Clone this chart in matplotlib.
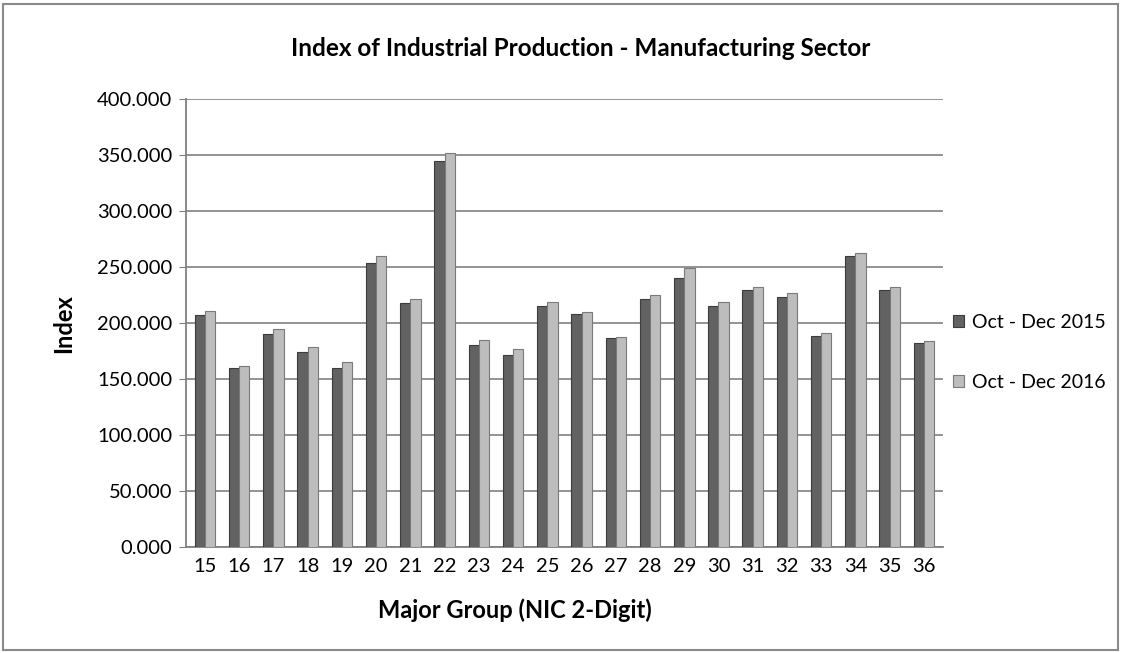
import numpy as np
import matplotlib.pyplot as plt
from matplotlib.patches import Rectangle

plt.rcParams['font.family'] = ['Lato', 'DejaVu Sans']

# Major groups (NIC 2-digit) and index values
groups = ["15", "16", "17", "18", "19", "20", "21", "22", "23", "24", "25",
          "26", "27", "28", "29", "30", "31", "32", "33", "34", "35", "36"]
oct_dec_2015 = [207, 160, 190, 174, 160, 254, 218, 345, 181, 172, 215,
                208, 187, 222, 240, 215, 230, 223, 189, 260, 230, 182]
oct_dec_2016 = [211, 162, 195, 179, 165, 260, 222, 352, 185, 177, 219,
                210, 188, 225, 249, 219, 232, 227, 191, 263, 232, 184]
series_names = ["Oct - Dec 2015", "Oct - Dec 2016"]

fig = plt.figure(figsize=(11.21, 6.53), dpi=100)
ax = fig.add_axes([0.166, 0.162, 0.675, 0.686])

x = np.arange(len(groups))
w = 0.3
ax.bar(x - w / 2, oct_dec_2015, w, color="#626262", edgecolor="#3c3c3c",
       linewidth=0.8, label=series_names[0], zorder=3)
ax.bar(x + w / 2, oct_dec_2016, w, color="#bdbdbd", edgecolor="#7a7a7a",
       linewidth=0.8, label=series_names[1], zorder=3)

ax.set_ylim(0, 400)
ax.set_xlim(-0.55, len(groups) - 0.45)
ax.set_yticks(np.arange(0, 401, 50))
ax.set_yticklabels([f"{v:.3f}" for v in np.arange(0, 401, 50)], fontsize=14.5)
ax.set_xticks(x)
ax.set_xticklabels(groups, fontsize=14.5)
ax.tick_params(axis="x", length=0, pad=8)
ax.tick_params(axis="y", length=5, color="#808080", pad=5)
ax.yaxis.grid(True, color="#8a8a8a", linewidth=1.3, zorder=0)
ax.set_axisbelow(True)

for side in ["top", "right"]:
    ax.spines[side].set_visible(False)
ax.spines["left"].set_color("#808080")
ax.spines["bottom"].set_color("#808080")
ax.spines["left"].set_linewidth(1.3)
ax.spines["bottom"].set_linewidth(1.3)

fig.text(0.518, 0.925, "Index of Industrial Production - Manufacturing Sector",
         fontsize=17.5, fontweight="bold", ha="center", va="center")
ax.set_xlabel("Major Group (NIC 2-Digit)", fontsize=17, fontweight="bold")
ax.xaxis.set_label_coords(0.435, -0.115)
ax.set_ylabel("Index", fontsize=17, fontweight="bold", labelpad=16)

ax.legend(loc="center left", bbox_to_anchor=(0.99, 0.435), frameon=False,
          fontsize=14, handlelength=0.6, handleheight=0.6, handletextpad=0.4,
          labelspacing=2.2)

# outer chart border
fig.patches.append(Rectangle((0.003, 0.004), 0.994, 0.99, transform=fig.transFigure,
                             fill=False, edgecolor="#8a8a8a", linewidth=1.5))

plt.savefig("out.png", dpi=100)
